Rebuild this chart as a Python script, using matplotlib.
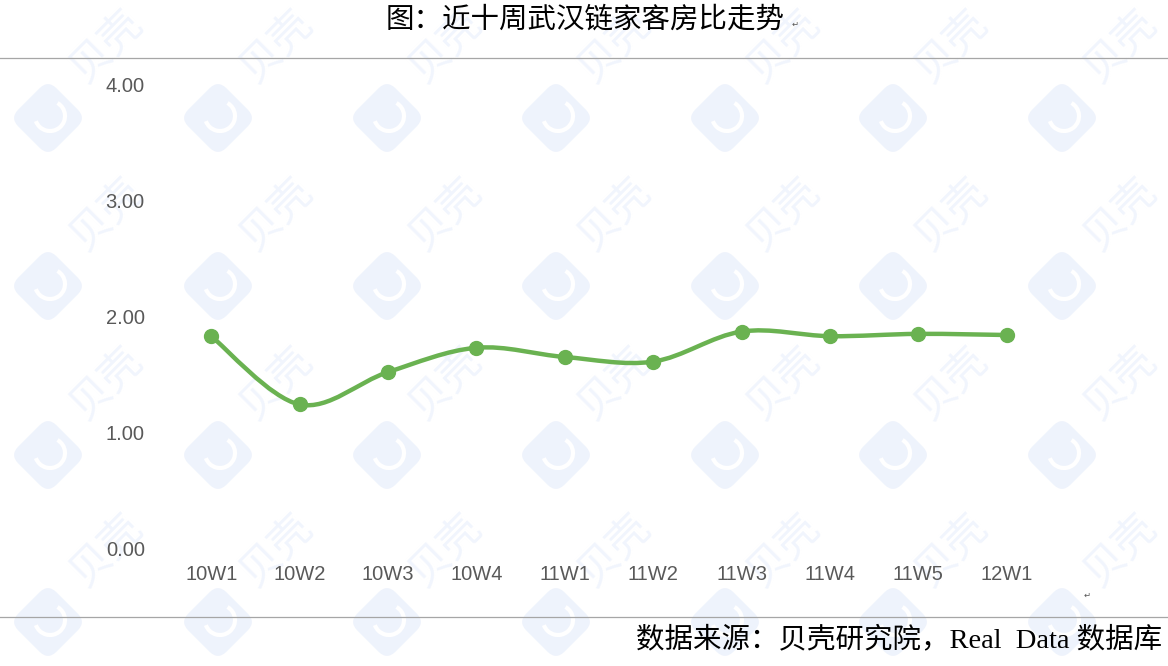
import numpy as np
import matplotlib
matplotlib.use("Agg")
import matplotlib.pyplot as plt
from matplotlib.path import Path
from matplotlib.patches import PathPatch, FancyBboxPatch, Arc
from matplotlib.lines import Line2D
import matplotlib.transforms as mtransforms

categories = ["10W1", "10W2", "10W3", "10W4", "11W1", "11W2", "11W3", "11W4", "11W5", "12W1"]
ratio = [1.83, 1.24, 1.52, 1.73, 1.65, 1.61, 1.87, 1.83, 1.85, 1.84]
ytick_labels = ["0.00", "1.00", "2.00", "3.00", "4.00"]
title = "图：近十周武汉链家客房比走势"
source = "数据来源：贝壳研究院，Real  Data 数据库"

W, H = 1168, 666
fig = plt.figure(figsize=(W / 100, H / 100), dpi=100)
fig.patch.set_facecolor("white")

# --- watermark (light decorative tiles) ---
wm_color = "#eef3fc"
for cx in [48, 218, 387, 556, 725, 893, 1062]:
    for cy in [118, 286, 455, 622]:
        tr = (mtransforms.Affine2D().rotate_deg_around(cx, H - cy, 45)
              + mtransforms.IdentityTransform())
        sq = FancyBboxPatch((cx - 27, H - cy - 27), 54, 54,
                            boxstyle="round,pad=0,rounding_size=12",
                            facecolor=wm_color, edgecolor="none",
                            transform=tr, zorder=0)
        fig.patches.append(sq)
        arc = Arc((cx + 2, H - cy + 2), 30, 30, theta1=200, theta2=60,
                  color="white", lw=3, transform=mtransforms.IdentityTransform(), zorder=0)
        fig.patches.append(arc)
        fig.text((cx + 58) / W, 1 - (cy - 72) / H, "贝壳", rotation=45,
                 fontsize=30, color="#f1f5fd", ha="center", va="center",
                 family=["Noto Sans CJK SC", "DejaVu Sans"], zorder=0)

# --- frame lines ---
fig.add_artist(Line2D([0, 1], [1 - 58 / H, 1 - 58 / H], color="#a6a6a6", lw=0.9,
                      transform=fig.transFigure, zorder=1))
fig.add_artist(Line2D([0, 1], [1 - 617 / H, 1 - 617 / H], color="#a6a6a6", lw=0.9,
                      transform=fig.transFigure, zorder=1))

fig.text(585 / W, 1 - 20 / H, title, ha="center", va="center", fontsize=20.5,
         family=["Noto Sans CJK SC", "DejaVu Sans"], color="black", zorder=6)
fig.text(795 / W, 1 - 24 / H, "↵", ha="center", va="center", fontsize=6, color="#555555",
         family=["DejaVu Sans"], zorder=6)
fig.text(1087 / W, 1 - 595 / H, "↵", ha="center", va="center", fontsize=6, color="#555555",
         family=["DejaVu Sans"], zorder=6)
fig.text(1162 / W, 1 - 640 / H, source, ha="right", va="center", fontsize=20.5,
         family=["Liberation Serif", "Noto Sans CJK SC"], color="black", zorder=6)

# --- axes ---
ax = fig.add_axes([167 / W, 1 - 548 / H, 884 / W, (548 - 85) / H])
ax.set_zorder(5)
ax.set_facecolor("none")
x = np.arange(len(categories))
y = np.array(ratio)

# smoothed line (Catmull-Rom -> cubic Bezier, Excel-like)
pts = np.column_stack([x, y]).astype(float)
P = np.vstack([pts[0], pts, pts[-1]])
verts = [tuple(pts[0])]
codes = [Path.MOVETO]
for i in range(1, len(P) - 2):
    p0, p1, p2, p3 = P[i - 1], P[i], P[i + 1], P[i + 2]
    c1 = p1 + (p2 - p0) / 6
    c2 = p2 - (p3 - p1) / 6
    verts += [tuple(c1), tuple(c2), tuple(p2)]
    codes += [Path.CURVE4] * 3
ax.add_patch(PathPatch(Path(verts, codes), facecolor="none", edgecolor="#6ab251",
                       lw=3.2, capstyle="round", zorder=2))
ax.plot(x, y, linestyle="none", marker="o", markersize=10, color="#6ab251", zorder=3)

ax.set_xlim(-0.5, len(categories) - 0.5)
ax.set_ylim(0, 4)
ax.set_yticks(range(5))
ax.set_yticklabels(ytick_labels)
ax.set_xticks(x)
ax.set_xticklabels(categories)
for s in ax.spines.values():
    s.set_visible(False)
ax.tick_params(axis="y", length=0, pad=16, labelsize=14.5, labelcolor="#595959")
ax.tick_params(axis="x", length=0, pad=12, labelsize=14.5, labelcolor="#595959")
for lab in ax.get_xticklabels() + ax.get_yticklabels():
    lab.set_family("Liberation Sans")

fig.savefig("out.png", dpi=100, facecolor="white")
